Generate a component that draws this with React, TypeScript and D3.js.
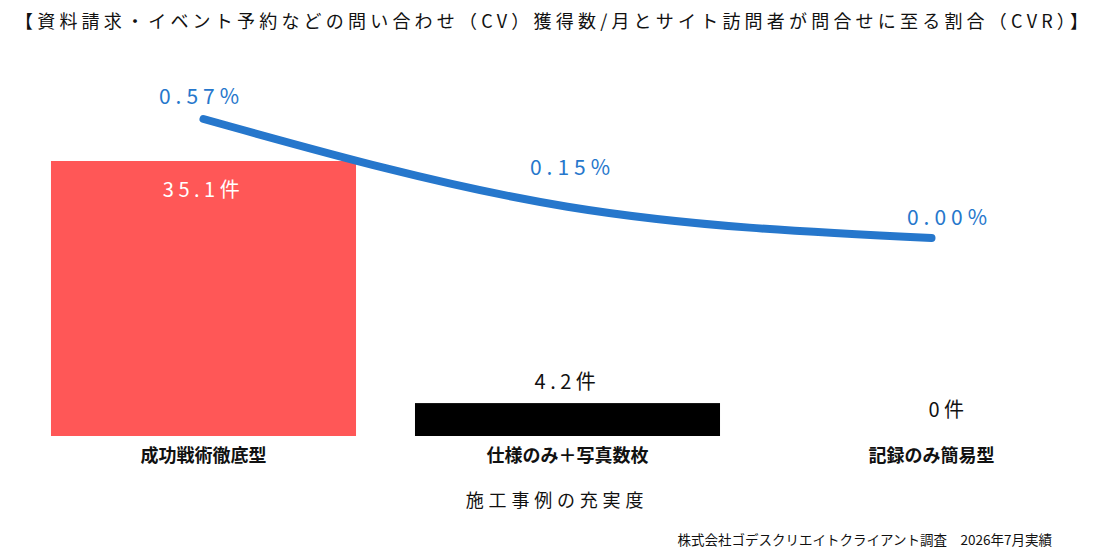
import { useRef, useEffect } from "react"
import * as d3 from "d3"

const categories = ["成功戦術徹底型", "仕様のみ＋写真数枚", "記録のみ簡易型"]
const cvCounts = [35.1, 4.2, 0]
const cvRates = [0.57, 0.15, 0.0]
const barColors = ["#ff5757", "#000000", "#000000"]

const title = "【資料請求・イベント予約などの問い合わせ（CV）獲得数/月とサイト訪問者が問合せに至る割合（CVR）】"
const xTitle = "施工事例の充実度"
const footnote = "株式会社ゴデスクリエイトクライアント調査　2026年7月実績"

// label nudges
const countLabelDx = [0, 0, 17]
const countLabelDy = [36, -14, -19]
const rateLabelDx = [-2, 5, 18]
const rateLabelDy = [-15, -32, -13]

const FONT = "'Noto Sans CJK JP', 'Noto Sans', sans-serif"

export default function App() {
  const svgRef = useRef<SVGSVGElement>(null)

  useEffect(() => {
    if (!svgRef.current) return
    const svg = d3.select(svgRef.current)
    svg.selectAll("*").remove()

    const width = 1099
    const height = 557

    const x = d3
      .scaleBand<string>()
      .domain(categories)
      .range([21.5, 1113.5])
      .paddingInner(0.162)
      .paddingOuter(0.081)

    const yBar = d3
      .scaleLinear()
      .domain([0, d3.max(cvCounts) as number])
      .range([436, 161])

    const yRate = d3
      .scaleLinear()
      .domain([0, d3.max(cvRates) as number])
      .range([238, 119])

    const cx = (c: string) => (x(c) as number) + x.bandwidth() / 2

    svg.append("rect").attr("width", width).attr("height", height).attr("fill", "#ffffff")

    // title
    svg
      .append("text")
      .attr("x", 15)
      .attr("y", 28)
      .attr("font-family", FONT)
      .attr("font-size", 18)
      .attr("letter-spacing", 4.2)
      .attr("fill", "#111")
      .text(title)

    // bars
    svg
      .append("g")
      .selectAll("rect")
      .data(cvCounts)
      .join("rect")
      .attr("x", (_, i) => x(categories[i]) as number)
      .attr("y", (d) => yBar(d))
      .attr("width", x.bandwidth())
      .attr("height", (d) => yBar(0) - yBar(d))
      .attr("fill", (_, i) => barColors[i])

    // count labels
    svg
      .append("g")
      .selectAll("text")
      .data(cvCounts)
      .join("text")
      .attr("x", (_, i) => cx(categories[i]) + countLabelDx[i])
      .attr("y", (d, i) => yBar(d) + countLabelDy[i])
      .attr("text-anchor", "middle")
      .attr("font-family", FONT)
      .attr("font-size", 20)
      .attr("letter-spacing", 4.5)
      .attr("fill", (_, i) => (i === 0 ? "#ffffff" : "#111"))
      .text((d) => `${d}件`)

    // category labels
    svg
      .append("g")
      .selectAll("text")
      .data(categories)
      .join("text")
      .attr("x", (d) => cx(d))
      .attr("y", 462)
      .attr("text-anchor", "middle")
      .attr("font-family", FONT)
      .attr("font-size", 18)
      .attr("font-weight", "bold")
      .attr("fill", "#111")
      .text((d) => d)

    // x axis title
    svg
      .append("text")
      .attr("x", 557)
      .attr("y", 507)
      .attr("text-anchor", "middle")
      .attr("font-family", FONT)
      .attr("font-size", 18)
      .attr("letter-spacing", 4.8)
      .attr("fill", "#111")
      .text(xTitle)

    // CVR line
    const line = d3
      .line<number>()
      .x((_, i) => cx(categories[i]))
      .y((d) => yRate(d))
      .curve(d3.curveMonotoneX)

    svg
      .append("path")
      .datum(cvRates)
      .attr("d", line)
      .attr("fill", "none")
      .attr("stroke", "#2677cc")
      .attr("stroke-width", 8)
      .attr("stroke-linecap", "round")
      .attr("stroke-linejoin", "round")

    // rate labels
    svg
      .append("g")
      .selectAll("text")
      .data(cvRates)
      .join("text")
      .attr("x", (_, i) => cx(categories[i]) + rateLabelDx[i])
      .attr("y", (d, i) => yRate(d) + rateLabelDy[i])
      .attr("text-anchor", "middle")
      .attr("font-family", FONT)
      .attr("font-size", 21)
      .attr("letter-spacing", 5)
      .attr("fill", "#2677cc")
      .text((d) => `${d.toFixed(2)}%`)

    // footnote
    svg
      .append("text")
      .attr("x", 1052)
      .attr("y", 545)
      .attr("text-anchor", "end")
      .attr("font-family", FONT)
      .attr("font-size", 13.5)
      .attr("fill", "#111")
      .text(footnote)
  }, [])

  return (
    <svg
      ref={svgRef}
      width={1099}
      height={557}
      style={{ position: "absolute", left: 0, top: 0, display: "block" }}
    />
  )
}
